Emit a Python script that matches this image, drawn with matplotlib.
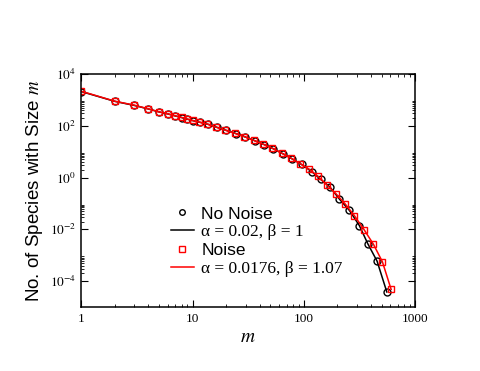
import matplotlib
matplotlib.use("Agg")
import matplotlib.pyplot as plt
import matplotlib.ticker as mticker
import numpy as np

plt.rcParams['mathtext.fontset'] = 'stix'

# no noise (black circles) and its fit
m_black = [1, 2, 3, 4, 5, 6, 7, 8, 9, 10, 11.6, 13.9, 16.6, 20, 24.6, 29.8, 36.2, 44.2,
           53.3, 64.7, 78.5, 95.5, 118, 142, 172, 209, 257, 316, 376, 456, 558]
n_black = [2100, 880, 610, 448, 343, 287, 240, 207, 179, 159, 137, 113, 87, 67, 50, 37,
           26.5, 18.7, 13, 8.4, 5.3, 3.2, 1.7, 0.85, 0.43, 0.148, 0.054, 0.014, 0.0028,
           5.9e-4, 3.8e-5]

# noise (red squares) and its fit
m_red = [1, 2, 3, 4, 5, 6, 7, 8, 9, 10, 11.4, 13.6, 16.2, 19.6, 24.1, 29.2, 35.5, 43.3,
         52.2, 63.4, 76.9, 93.2, 112, 135, 161, 195, 235, 285, 348, 423, 509, 610]
n_red = [2160, 891, 625, 451, 345, 289, 242, 210, 181, 161, 140, 116, 89, 68, 51, 38,
         27.4, 19.3, 13.5, 8.7, 5.6, 3.4, 2.1, 1.1, 0.52, 0.235, 0.097, 0.034, 0.0098,
         0.00265, 5.6e-4, 4.8e-5]

labels = ['No Noise', 'α = 0.02, β = 1', 'Noise', 'α = 0.0176, β = 1.07']

fig = plt.figure(figsize=(4.8, 3.71), dpi=100)
ax = fig.add_axes([0.1694, 0.1725, 0.6952, 0.628])

l1, = ax.plot(m_black, n_black, '-', color='black', lw=1.1)
p1, = ax.plot(m_black, n_black, 'o', ls='none', mfc='none', mec='black', ms=5, mew=1.0)
l2, = ax.plot(m_red, n_red, '-', color='red', lw=1.1)
p2, = ax.plot(m_red, n_red, 's', ls='none', mfc='none', mec='red', ms=5, mew=1.0)

ax.set_xscale('log')
ax.set_yscale('log')
ax.set_xlim(1, 1000)
ax.set_ylim(1e-5, 1e4)

ax.xaxis.set_major_locator(mticker.FixedLocator([1, 10, 100, 1000]))
ax.xaxis.set_minor_locator(mticker.LogLocator(base=10, subs=np.arange(2, 10)))
ax.set_xticklabels(['1', '10', '100', '1000'], fontfamily='Liberation Serif', fontsize=9.5)

yt = [1e-4, 1e-2, 1, 1e2, 1e4]
ax.yaxis.set_major_locator(mticker.FixedLocator(yt))
yminor = [k * 10.0 ** e for e in (-6, -4, -2, 0, 2) for k in range(2, 10)]
ax.yaxis.set_minor_locator(mticker.FixedLocator(yminor))
ax.set_yticklabels([r'$10^{-4}$', r'$10^{-2}$', r'$10^{0}$', r'$10^{2}$', r'$10^{4}$'], fontsize=9.5)

ax.tick_params(which='both', direction='in', top=True, right=True, width=0.8)
ax.tick_params(which='major', length=5, pad=4)
ax.tick_params(which='minor', length=2.5, width=0.6)
for s in ax.spines.values():
    s.set_linewidth(1.1)

ax.set_xlabel(r'$m$', fontsize=14, labelpad=2)
ax.set_ylabel(r'No. of Species with Size $m$', fontsize=13.5, fontfamily='Liberation Sans', labelpad=3)

leg = ax.legend([p1, l1, p2, l2], labels, loc='upper left', bbox_to_anchor=(0.269, 0.432),
                frameon=False, fontsize=12.5, borderpad=0, borderaxespad=0, markerscale=0.8,
                handlelength=1.3, handletextpad=0.45, labelspacing=0.15)
for i, t in enumerate(leg.get_texts()):
    t.set_fontfamily('Liberation Sans' if i in (0, 2) else 'Liberation Serif')

fig.savefig('out.png', dpi=100)
